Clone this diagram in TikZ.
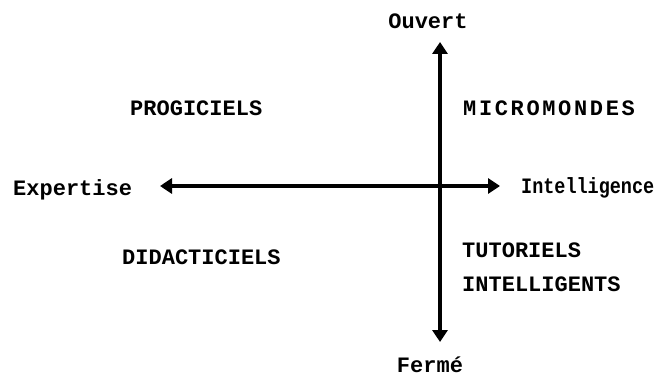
\documentclass[tikz,border=0pt]{standalone}
\usepackage{fontspec}
\setmainfont{Liberation Mono}
\usetikzlibrary{arrows.meta}
\begin{document}
\begin{tikzpicture}[x=1pt,y=-1pt,
  lbl/.style={font=\fontsize{22}{22}\selectfont\bfseries, inner sep=0pt},
  axis/.style={line width=3.6pt, {Triangle[width=15pt,length=12pt]}-{Triangle[width=15pt,length=12pt]}}]
\useasboundingbox (0,0) rectangle (656,377);
\coordinate (top) at (440,42);
\coordinate (bot) at (440,342);
\coordinate (left) at (160,186);
\coordinate (right) at (500,186);
\draw[axis] (top) -- (bot);
\draw[axis] (left) -- (right);
\node[lbl] (ouvert) at (428,21) {Ouvert};
\node[lbl] (ferme) at (430,365) {Fermé};
\node[lbl, anchor=west] (expertise) at (13,190) {Expertise};
\node[lbl, anchor=west] (intel) at (521,188) {\scalebox{0.84}[1]{Intelligence}};
\node[lbl, anchor=west] (progiciels) at (130,108) {PROGICIELS};
\node[lbl, anchor=west] (micro) at (463,108) {\addfontfeature{LetterSpace=12}MICROMONDES};
\node[lbl, anchor=west] (didac) at (122,257) {DIDACTICIELS};
\node[lbl, anchor=west] (tuto) at (462,250) {TUTORIELS};
\node[lbl, anchor=west] (intelli) at (462,284) {INTELLIGENTS};
\end{tikzpicture}
\end{document}
